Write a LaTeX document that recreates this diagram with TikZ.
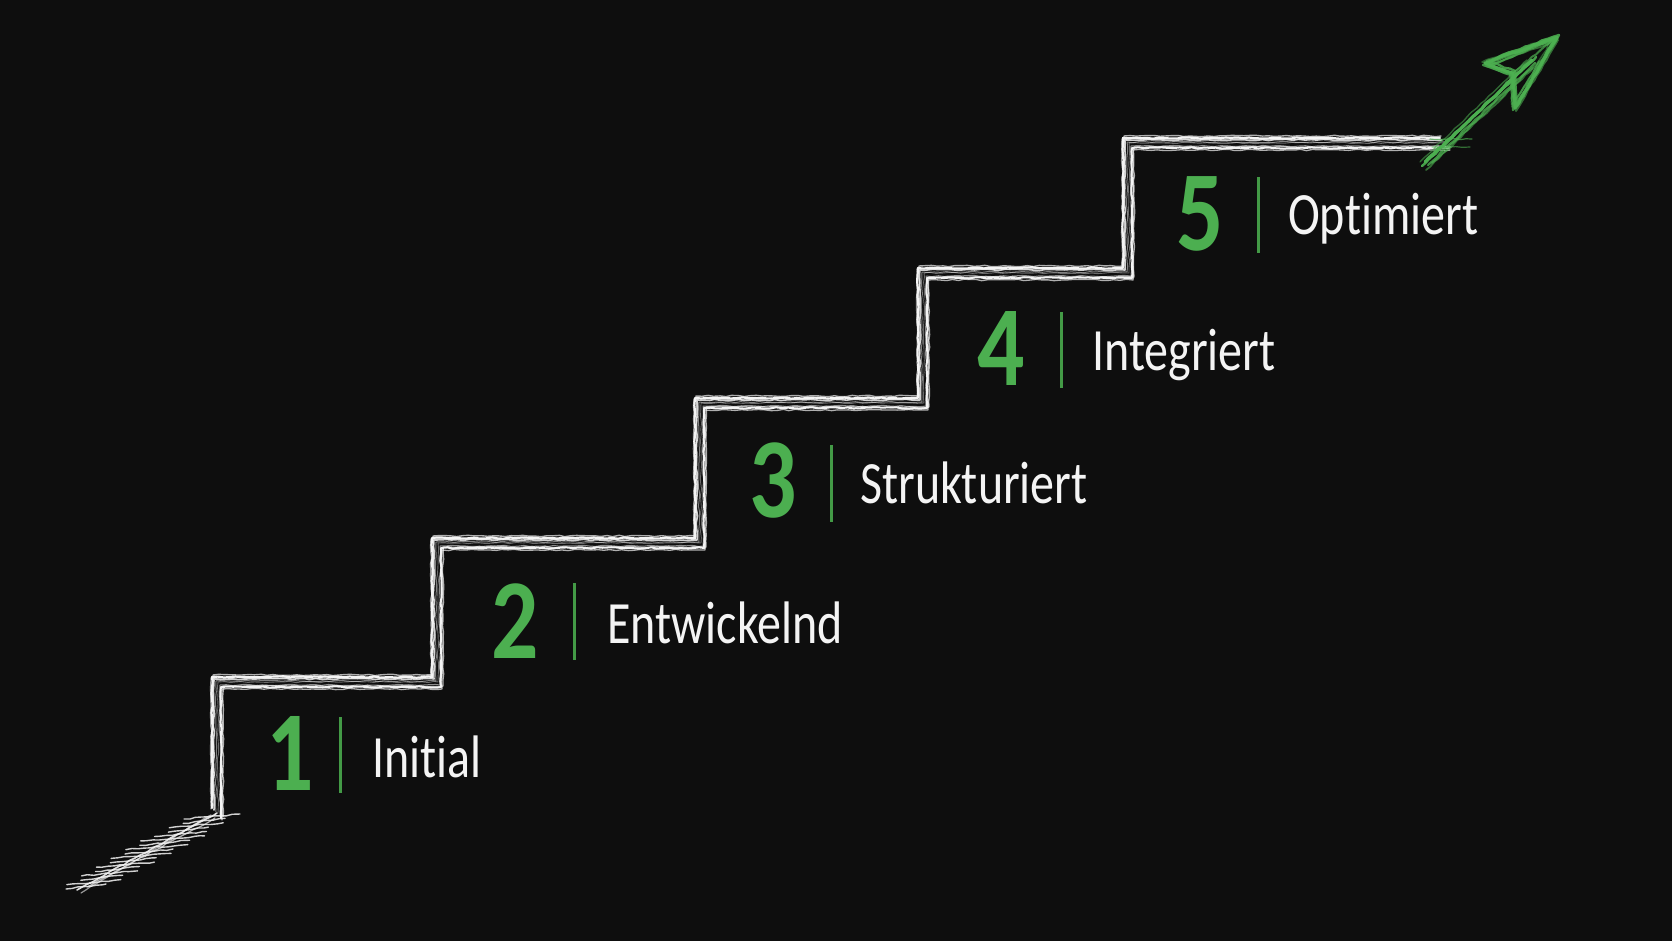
\documentclass[tikz,border=0pt]{standalone}
\usepackage{fontspec}
\usetikzlibrary{decorations.pathmorphing}
\newfontfamily\lblfont[FakeStretch=0.8,Ligatures=NoCommon]{Carlito}
\newfontfamily\numfont[FakeStretch=0.82,Ligatures=NoCommon]{Carlito}
\definecolor{board}{HTML}{0E0E0E}
\definecolor{chalkgreen}{HTML}{4CAF50}
\definecolor{chalkwhite}{HTML}{F4F4F4}
\tikzset{
  chalk/.style={draw=chalkwhite, line width=1.3pt, line cap=round, line join=round,
    decorate, decoration={random steps, segment length=6pt, amplitude=0.7pt}},
  gchalk/.style={chalk, draw=chalkgreen},
  numlbl/.style={text=chalkgreen, inner sep=0pt, font=\numfont\bfseries\fontsize{114}{114}\selectfont},
  steplbl/.style={text=chalkwhite, inner sep=0pt, anchor=base west, font=\lblfont\fontsize{60}{60}\selectfont},
  divider/.style={draw=chalkgreen!88!black, line width=3pt},
}
\begin{document}
\begin{tikzpicture}[x=1pt,y=-1pt]
\pgfmathsetseed{4242}
\fill[board] (0,0) rectangle (1672,941);
\useasboundingbox (0,0) rectangle (1672,941);

% stair corner points
\coordinate (p0) at (217,813);
\coordinate (p1) at (217,682);
\coordinate (p2) at (437,682);
\coordinate (p3) at (437,543);
\coordinate (p4) at (700,543);
\coordinate (p5) at (700,403);
\coordinate (p6) at (923,403);
\coordinate (p7) at (923,273);
\coordinate (p8) at (1128,273);
\coordinate (p9) at (1128,143);
\coordinate (p10) at (1445,143);

% chalk stairs, several passes (outer edge and inner edge)
\foreach \dx/\dy/\op/\lw in {-5/-5/1/2.2, -4/-7/.7/1.4, -3/-3/.85/1.6, -6/-4/.6/1.2, -1/-1/.5/1.0,
                             4/5/1/2.0, 6/4/.7/1.4, 5/7/.7/1.3, 3/3/.55/1.0, 1/0/.4/0.9}{
  \draw[chalk, opacity=\op, line width=\lw pt]
    ([shift={(\dx,\dy)}]p0) -- ([shift={(\dx,\dy)}]p1) -- ([shift={(\dx,\dy)}]p2)
    -- ([shift={(\dx,\dy)}]p3) -- ([shift={(\dx,\dy)}]p4) -- ([shift={(\dx,\dy)}]p5)
    -- ([shift={(\dx,\dy)}]p6) -- ([shift={(\dx,\dy)}]p7) -- ([shift={(\dx,\dy)}]p8)
    -- ([shift={(\dx,\dy)}]p9) -- ([shift={(\dx,\dy)}]p10);
}

% scribble at the foot of the stairs
\coordinate (f0) at (77,890);
\coordinate (f1) at (217,813);
\draw[chalk, opacity=.9, line width=1.6pt] (f0) -- (f1);
\draw[chalk, opacity=.7, line width=1.3pt] ([shift={(10,-3)}]f0) -- ([shift={(-2,5)}]f1);
\draw[chalk, opacity=.6, line width=1.2pt] ([shift={(4,3)}]f0) -- ([shift={(-6,2)}]f1);
\foreach \i in {0,...,16}{
  \pgfmathsetmacro\cx{84+126*\i/16}
  \pgfmathsetmacro\cy{886-70*\i/16}
  \pgfmathsetmacro\ln{18+mod(\i*7,13)}
  \draw[chalk, opacity=.85, line width=1.4pt] ({\cx-\ln},{\cy+3}) -- ({\cx+\ln+4},{\cy-2});
}

% green fade at the top end
\draw[gchalk, opacity=.7, line width=1.2pt] (1430,139) -- (1472,139);
\draw[gchalk, opacity=.6, line width=1.2pt] (1432,147) -- (1470,147);

% arrow
\coordinate (atail) at (1425,162);
\coordinate (atip) at (1557,37);
\coordinate (abl) at (1485,63);
\coordinate (aj) at (1513,73);
\coordinate (abr) at (1515,108);
\coordinate (ashaft) at (1532,60);
\foreach \dx/\dy/\op/\lw in {0/0/1/3.2, 4/-3/.9/2.4, -3/4/.9/2.4, 7/1/.65/1.8, 1/8/.6/1.8, -5/0/.55/1.4, 3/3/.8/2.2}{
  \draw[gchalk, opacity=\op, line width=\lw pt] ([shift={(\dx,\dy)}]atail) -- ([shift={(\dx,\dy)}]ashaft);
}
\foreach \dx/\dy/\op/\lw in {0/0/1/3.2, 2/-2/.85/2.4, -2/2/.8/2.4, 1/3/.6/1.8, -3/-1/.5/1.5}{
  \draw[gchalk, opacity=\op, line width=\lw pt] ([shift={(\dx,\dy)}]atip) -- ([shift={(\dx,\dy)}]abl)
    -- ([shift={(\dx,\dy)}]aj) -- ([shift={(\dx,\dy)}]abr) -- cycle;
}
\draw[gchalk, opacity=.8, line width=2pt] ([shift={(4,3)}]abl) -- ([shift={(-2,2)}]atip);
\draw[gchalk, opacity=.7, line width=2pt] (aj) -- (atip);
\draw[gchalk, opacity=.7, line width=2pt] ([shift={(-3,-4)}]abr) -- ([shift={(-2,3)}]atip);

% step labels
\node[numlbl] (n1) at (290,753) {1};
\node[numlbl] (n2) at (515,621) {2};
\node[numlbl] (n3) at (773,481) {3};
\node[numlbl] (n4) at (1001,349) {4};
\node[numlbl] (n5) at (1200,214) {5};

\coordinate (b1t) at (340,717); \coordinate (b1b) at (340,793);
\coordinate (b2t) at (574,583); \coordinate (b2b) at (574,660);
\coordinate (b3t) at (831,445); \coordinate (b3b) at (831,522);
\coordinate (b4t) at (1061,312); \coordinate (b4b) at (1061,388);
\coordinate (b5t) at (1258,177); \coordinate (b5b) at (1258,253);
\draw[divider] (b1t) -- (b1b);
\draw[divider] (b2t) -- (b2b);
\draw[divider] (b3t) -- (b3b);
\draw[divider] (b4t) -- (b4b);
\draw[divider] (b5t) -- (b5b);

\node[steplbl] (l1) at (372,777) {Initial};
\node[steplbl] (l2) at (607,643) {Entwickelnd};
\node[steplbl] (l3) at (860,503) {Strukturiert};
\node[steplbl] (l4) at (1092,370) {Integriert};
\node[steplbl] (l5) at (1288,235) {Optimiert};
\end{tikzpicture}
\end{document}
